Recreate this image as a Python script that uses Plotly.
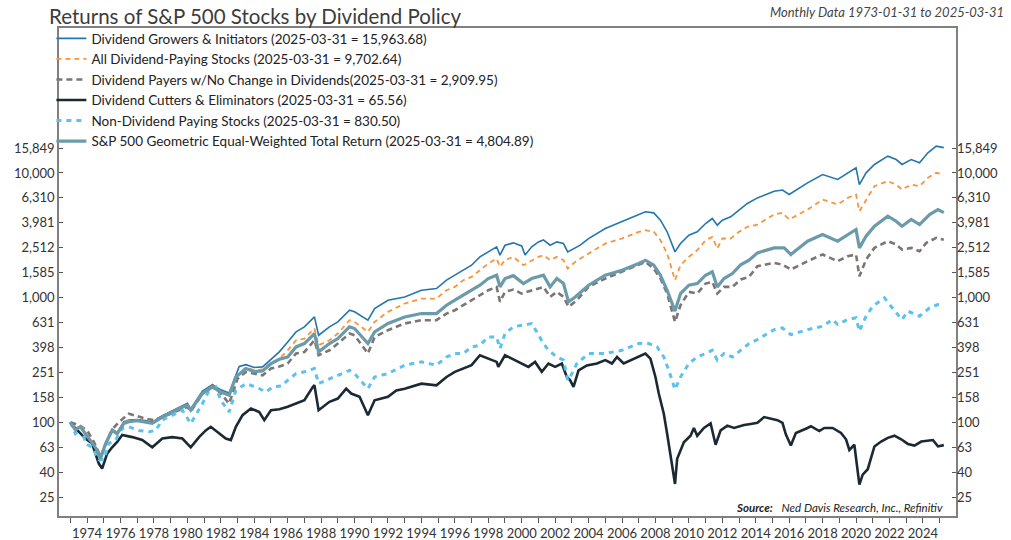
import plotly.graph_objects as go

# ---------------- data (decimal years, index values) ----------------
growers_x = [1973.0,1973.3,1973.6,1973.9,1974.3,1974.7,1974.8,1975.1,1975.5,1975.8,1976.2,1976.5,1977.0,1977.5,1977.9,
             1978.5,1979.0,1979.5,1980.0,1980.2,1980.9,1981.5,1982.0,1982.5,1982.9,1983.1,1983.5,1984.0,1984.5,1985.0,
             1985.5,1986.0,1986.5,1987.0,1987.6,1987.85,1988.5,1989.0,1989.7,1990.0,1990.8,1991.2,1992.0,1993.0,1994.0,
             1994.9,1995.5,1996.0,1996.5,1997.0,1997.5,1998.0,1998.5,1998.7,1999.0,1999.5,2000.0,2000.2,2000.6,2001.0,
             2001.3,2001.7,2002.1,2002.5,2002.75,2003.5,2004.0,2005.0,2006.0,2007.0,2007.4,2007.9,2008.3,2008.7,2009.17,
             2009.5,2010.0,2010.5,2011.0,2011.4,2011.7,2012.0,2012.5,2013.0,2013.5,2014.1,2015.1,2015.6,2016.0,2017.1,
             2018.0,2018.9,2019.5,2020.0,2020.2,2020.6,2021.1,2021.9,2022.4,2022.75,2023.3,2023.8,2024.3,2024.8,2025.25]
growers_y = [100,88,93,82,69,55,52,68,88,83,101,104,105,103,100,
             113,122,133,142,128,178,200,182,172,240,280,290,275,278,320,
             367,441,531,582,700,499,582,639,792,769,659,817,953,1013,1146,
             1183,1380,1514,1660,1820,2123,2328,2553,2188,2630,2749,2600,2200,2554,2800,
             2900,2634,2800,2716,2329,2634,2978,3583,4053,4585,4878,4786,4180,3373,2329,
             2716,3170,3373,3930,4313,3811,4180,4446,5029,5689,6310,7145,7300,6718,8336,
             9720,8870,10020,10990,8072,10020,11700,13640,12820,11700,12820,12060,14520,16410,15964]

alldiv_x = [1973.0,1973.3,1973.6,1973.9,1974.3,1974.8,1975.1,1975.5,1975.8,1976.2,1976.5,1977.0,1977.5,1977.9,1978.5,
            1979.0,1979.5,1980.0,1980.2,1980.9,1981.5,1982.0,1982.5,1982.9,1983.5,1984.0,1984.5,1985.0,1985.5,1986.0,
            1986.5,1987.0,1987.6,1987.85,1988.5,1989.0,1989.7,1990.0,1990.8,1991.2,1992.0,1993.0,1994.0,1994.9,1995.5,
            1996.0,1996.5,1997.0,1997.5,1998.0,1998.5,1998.7,1999.0,1999.5,2000.1,2000.6,2001.0,2001.3,2001.7,2002.1,
            2002.5,2002.75,2003.2,2004.0,2005.0,2006.0,2007.0,2007.4,2007.9,2008.3,2008.7,2009.17,2009.5,2010.0,2010.5,
            2011.0,2011.4,2011.7,2012.0,2012.5,2013.0,2013.5,2014.1,2015.1,2015.6,2016.0,2017.1,2018.0,2018.9,2019.5,
            2020.0,2020.2,2020.6,2021.1,2021.9,2022.4,2022.75,2023.3,2023.8,2024.3,2024.8,2025.25]
alldiv_y = [100,89,93,82,69,53,68,87,82,100,103,104,101,98,111,
            119,129,137,125,172,194,176,166,232,275,262,265,300,324,378,
            455,469,565,415,455,515,659,639,531,639,769,896,983,983,1146,
            1219,1380,1466,1660,1877,2057,1765,2000,2123,1820,1996,2123,2188,1996,2123,
            1996,1710,1935,2258,2716,2980,3373,3475,3373,2889,2258,1380,1820,2123,2400,
            2889,3071,2477,2980,2980,3373,3696,3857,4640,4786,4236,5090,6120,5585,6310,
            6714,4932,6120,7834,8590,8072,7364,8072,7834,9140,10030,9703]

nochg_x = [1973.0,1973.5,1974.0,1974.4,1974.8,1975.5,1976.0,1976.5,1977.0,1977.5,1978.0,1978.5,1979.0,1979.5,1980.0,
           1980.2,1980.9,1981.5,1982.0,1982.5,1983.0,1983.5,1984.0,1984.5,1985.0,1985.5,1986.0,1986.5,1987.0,1987.6,
           1987.85,1988.5,1989.0,1989.7,1990.0,1990.8,1991.2,1992.0,1993.0,1994.0,1994.9,1995.5,1996.0,1996.5,1997.0,
           1997.5,1998.0,1998.5,1998.7,1999.0,1999.5,2000.0,2000.6,2001.0,2001.3,2001.7,2002.1,2002.5,2002.8,2003.3,
           2004.0,2005.0,2006.0,2007.0,2007.4,2007.9,2008.3,2008.7,2009.17,2009.5,2010.0,2010.5,2011.0,2011.4,2011.7,
           2012.1,2012.6,2013.1,2013.6,2014.1,2015.1,2015.6,2016.1,2017.1,2018.0,2018.9,2019.5,2020.0,2020.2,2020.6,
           2021.1,2021.9,2022.4,2022.75,2023.3,2023.8,2024.2,2024.8,2025.25]
nochg_y = [100,95,86,70,53,88,103,117,112,107,104,110,117,125,133,
           122,170,198,170,141,224,253,245,238,270,280,296,356,366,455,
           345,378,428,515,499,356,483,548,620,659,659,745,792,867,954,
           1045,1146,1219,925,1112,1160,1078,1146,1183,1219,1013,1112,1013,843,953,
           1219,1422,1610,1820,1935,1710,1422,1078,639,869,1112,1078,1297,1337,1078,
           1219,1219,1400,1466,1786,1900,1842,1680,1960,2218,1960,2149,2218,1485,2020,
           2506,2837,2667,2430,2506,2356,2749,3014,2910]

cutters_x = [1973.0,1973.1,1973.5,1973.9,1974.3,1974.7,1974.9,1975.2,1975.5,1975.8,1976.1,1976.7,1977.3,1977.9,1978.5,
             1979.1,1979.7,1980.2,1980.7,1981.1,1981.4,1981.9,1982.3,1982.6,1982.9,1983.3,1983.8,1984.3,1984.6,1985.0,
             1985.5,1986.0,1986.5,1987.0,1987.5,1987.6,1987.85,1988.5,1989.0,1989.5,1989.8,1990.3,1990.8,1991.2,1992.0,
             1992.5,1993.0,1994.0,1994.9,1995.5,1996.0,1996.5,1997.0,1997.5,1998.0,1998.5,1998.6,1999.0,1999.5,2000.0,
             2000.4,2000.8,2001.2,2001.6,2002.0,2002.4,2002.7,2002.9,2003.1,2003.4,2003.9,2004.5,2005.0,2005.4,2005.7,
             2006.1,2006.7,2007.0,2007.4,2007.7,2008.0,2008.2,2008.5,2008.7,2008.9,2009.17,2009.3,2009.5,2009.7,2010.1,
             2010.3,2010.5,2010.9,2011.3,2011.6,2011.9,2012.3,2012.7,2013.3,2013.7,2014.1,2014.5,2015.3,2015.6,2015.8,
             2016.1,2016.4,2017.1,2017.3,2017.8,2018.1,2018.6,2019.1,2019.4,2019.6,2019.9,2020.2,2020.4,2020.7,2021.1,
             2021.5,2021.9,2022.3,2022.7,2023.1,2023.5,2023.9,2024.6,2024.9,2025.25]
cutters_y = [100,95,84,74,67.5,46.6,42.5,56,63,69.5,79,76,72,63,74,
             76,74,63,76,86,92,81,74,72,92,114,129,121,104,125,
             127,133,141,150,192,198,125,146,155,186,170,160,114,150,160,
             180,186,204,198,231,254,270,287,345,324,305,278,345,320,296,
             278,305,254,296,278,296,231,217,192,261,286,296,315,296,334,
             296,324,334,356,324,231,170,117,81,56,32,51,60,69,78,
             90,78,90,98,66,86,94,90,95,97,99,110,104,99,80,
             65,82,90,93,85,90,90,82,73,60,66,31.6,38,42,64,
             70,75,78,73,67,65,70,72,64,65.56]

nondiv_x = [1973.0,1973.3,1973.7,1973.9,1974.3,1974.7,1975.0,1975.3,1975.7,1976.1,1976.5,1977.1,1977.7,1978.1,1978.5,
            1979.1,1979.7,1980.2,1980.9,1981.3,1981.7,1982.0,1982.5,1982.9,1983.5,1984.1,1984.7,1985.1,1985.6,1986.0,
            1986.5,1987.0,1987.6,1987.85,1988.5,1989.0,1989.7,1990.0,1990.8,1991.2,1992.0,1993.0,1994.0,1994.9,1995.5,
            1996.0,1996.5,1997.0,1997.5,1998.0,1998.5,1998.7,1999.0,1999.5,2000.0,2000.6,2000.9,2001.3,2001.6,2002.1,
            2002.5,2002.75,2002.9,2003.3,2004.0,2005.0,2006.0,2007.0,2007.5,2008.1,2008.5,2008.8,2009.17,2009.5,2010.0,
            2010.5,2011.0,2011.4,2011.7,2012.1,2012.6,2013.1,2013.6,2014.1,2015.1,2015.6,2016.1,2017.1,2018.0,2018.6,
            2018.9,2019.5,2020.0,2020.2,2020.6,2021.0,2021.7,2022.0,2022.4,2022.75,2023.1,2023.8,2024.4,2024.9,2025.25]
nondiv_y = [100,81,91,67.5,63,50,50,67.5,72,89,92,86,84,86,104,
            114,125,97.6,141,180,192,150,121,180,204,192,175,192,195,217,
            246,254,270,204,224,238,261,246,186,231,246,287,305,287,334,
            356,356,402,415,484,484,390,515,583,600,619,531,428,378,334,
            315,217,231,296,356,356,378,428,433,402,334,261,183,231,296,
            334,356,378,315,356,334,380,428,461,554,571,505,554,589,667,
            608,667,688,537,710,853,995,880,754,667,778,710,827,880,900]

ew_x = [1973.0,1973.3,1973.6,1973.9,1974.3,1974.6,1974.8,1975.1,1975.5,1975.8,1976.2,1976.5,1977.0,1977.5,1977.9,
        1978.5,1979.0,1979.5,1980.0,1980.2,1980.9,1981.5,1982.0,1982.5,1982.9,1983.5,1984.0,1984.5,1985.0,1985.5,
        1986.0,1986.5,1987.0,1987.6,1987.85,1988.5,1989.0,1989.7,1990.0,1990.8,1991.2,1992.0,1993.0,1994.0,1994.9,
        1995.5,1996.0,1996.5,1997.0,1997.5,1998.0,1998.5,1998.7,1999.0,1999.5,2000.1,2000.6,2001.0,2001.3,2001.7,
        2002.1,2002.5,2002.8,2003.2,2004.0,2005.0,2006.0,2007.0,2007.4,2007.9,2008.3,2008.7,2009.17,2009.5,2010.0,
        2010.5,2011.0,2011.4,2011.7,2012.1,2012.6,2013.1,2013.6,2014.1,2015.1,2015.7,2016.1,2017.1,2018.0,2018.9,
        2019.5,2020.0,2020.2,2020.6,2021.1,2021.9,2022.4,2022.75,2023.3,2023.8,2024.4,2024.9,2025.25]
ew_y = [100,87,92,81,67.5,60,51,67,86,81,98,101,103,101,98,
        110,119,129,137,125,170,192,175,165,231,270,255,258,295,320,
        334,402,428,515,367,428,469,583,565,428,531,620,700,745,745,
        869,954,1045,1146,1257,1422,1512,1221,1422,1500,1297,1422,1466,1512,1219,
        1422,1297,925,1013,1257,1512,1660,1877,1996,1820,1512,1146,780,1078,1257,
        1297,1512,1610,1219,1422,1560,1830,1996,2286,2506,2506,2218,2837,3206,2837,
        3206,3518,2506,3111,3741,4500,4104,3741,4236,3857,4640,5090,4805]

series_names = [
    "Dividend Growers & Initiators (2025-03-31 = 15,963.68)",
    "All Dividend-Paying Stocks (2025-03-31 = 9,702.64)",
    "Dividend Payers w/No Change in Dividends(2025-03-31 = 2,909.95)",
    "Dividend Cutters & Eliminators (2025-03-31 = 65.56)",
    "Non-Dividend Paying Stocks (2025-03-31 = 830.50)",
    "S&P 500 Geometric Equal-Weighted Total Return (2025-03-31 = 4,804.89)",
]
y_tick_labels = ["25", "40", "63", "100", "158", "251", "398", "631", "1,000",
                 "1,585", "2,512", "3,981", "6,310", "10,000", "15,849"]
y_tick_vals = [10 ** (1.4 + 0.2 * i) for i in range(len(y_tick_labels))]

# ---------------- styles ----------------
styles = [
    dict(color="#2576ab", width=1.6, dash="solid"),
    dict(color="#f7943c", width=1.8, dash="5px,4px"),
    dict(color="#7d7574", width=2.6, dash="6px,4px"),
    dict(color="#1b2a32", width=2.6, dash="solid"),
    dict(color="#5bc2ef", width=3.0, dash="5px,5px"),
    dict(color="#6b9bab", width=3.2, dash="solid"),
]
data = [(growers_x, growers_y), (alldiv_x, alldiv_y), (nochg_x, nochg_y),
        (cutters_x, cutters_y), (nondiv_x, nondiv_y), (ew_x, ew_y)]

fig = go.Figure()
for (xs, ys), name, st in zip(data, series_names, styles):
    fig.add_trace(go.Scatter(x=xs, y=ys, name=name, mode="lines", line=st))

# invisible trace to activate the right-hand axis
fig.add_trace(go.Scatter(x=[ew_x[-1]], y=[ew_y[-1]], yaxis="y2", mode="lines",
                         showlegend=False, hoverinfo="skip", opacity=0))

FONT = "Lato, 'Open Sans', sans-serif"
yr = [1.248, 5.163]
axis_common = dict(type="log", range=yr, tickmode="array", tickvals=y_tick_vals,
                   ticktext=y_tick_labels, ticks="inside", ticklen=4, tickwidth=1.2,
                   tickcolor="#555", showgrid=False, zeroline=False, automargin=False,
                   tickfont=dict(family=FONT, size=13, color="#333"))

fig.update_layout(
    width=1011, height=540,
    margin=dict(l=59, r=55, t=28, b=24, autoexpand=False),
    paper_bgcolor="white", plot_bgcolor="white",
    font=dict(family=FONT, color="#333"),
    showlegend=True,
    legend=dict(x=-0.0085, y=1.01, xanchor="left", yanchor="top",
                bgcolor="rgba(0,0,0,0)", font=dict(family=FONT, size=13.5, color="#222"),
                tracegroupgap=0),
    xaxis=dict(range=[1972.32, 2025.98], tickmode="linear", tick0=1974, dtick=2,
               ticks="outside", ticklen=5, tickcolor="#555", tickwidth=1.2,
               minor=dict(dtick=1, tick0=1973, ticks="outside", ticklen=5, tickcolor="#555"),
               showline=True, linecolor="#808080", linewidth=1.6, mirror=True,
               showgrid=False, zeroline=False, automargin=False,
               tickfont=dict(family=FONT, size=13, color="#333")),
    yaxis=dict(side="left", showline=True, linecolor="#808080", linewidth=1.6, mirror=True,
               **axis_common),
    yaxis2=dict(side="right", overlaying="y", showline=False, **axis_common),
)

fig.add_annotation(xref="paper", yref="paper", x=-0.0134, y=1.0246, xanchor="left", yanchor="middle",
                   text="Returns of S&P 500 Stocks by Dividend Policy", showarrow=False,
                   font=dict(family=FONT, size=20.5, color="#3c3c3c"))
fig.add_annotation(xref="paper", yref="paper", x=1.056, y=1.033, xanchor="right", yanchor="middle",
                   text="<i>Monthly Data 1973-01-31 to 2025-03-31</i>", showarrow=False,
                   font=dict(family=FONT, size=13, color="#444"))
fig.add_annotation(xref="paper", yref="paper", x=0.988, y=0.018, xanchor="right", yanchor="middle",
                   text="<b><i>Source:</i></b>   <i>Ned Davis Research, Inc., Refinitiv</i>", showarrow=False,
                   font=dict(family=FONT, size=11.5, color="#222"))

fig.write_html("out.html", config={"displayModeBar": False},
               post_script="document.body.style.margin='0';document.body.style.padding='0';")
